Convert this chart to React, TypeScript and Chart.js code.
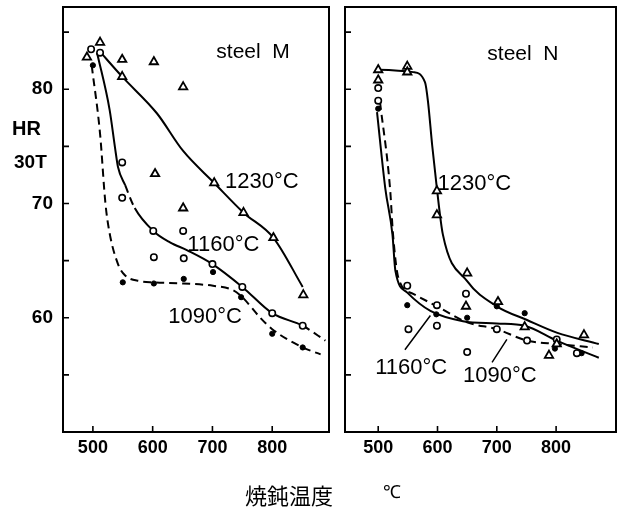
import React, { useEffect, useRef } from "react";
import { Chart, registerables } from "chart.js";
Chart.register(...registerables);

// ---- axis ticks ----
const xTickValues = [500, 600, 700, 800];
const yTickValues = [55, 60, 65, 70, 75, 80, 85];
const yLabelValues = [60, 70, 80];

// ---- steel M : measured points [temperature, HR30T] ----
const mTriangles = [[490, 82.8], [512, 84.1], [549, 82.6], [549, 81.1], [602, 82.4], [651, 80.2], [604, 72.6], [651, 69.6], [703, 71.8], [752, 69.2], [802, 67.0], [852, 62.0]];
const mCircles = [[497, 83.5], [512, 83.2], [549, 73.6], [549, 70.5], [601, 67.6], [602, 65.3], [651, 67.6], [652, 65.2], [700, 64.7], [750, 62.7], [800, 60.4], [851, 59.3]];
const mDots = [[500, 82.1], [550, 63.1], [602, 63.0], [652, 63.4], [701, 64.0], [748, 61.8], [800, 58.6], [851, 57.4]];
// ---- steel M : fitted curves ----
const mCurve1230 = [[510, 83.4], [549, 81.1], [607, 77.9], [651, 74.6], [703, 71.8], [752, 69.2], [802, 67.0], [851, 62.7]];
const mCurve1160 = [[507, 83.2], [528, 78.2], [537, 74.9], [542, 73.2], [554, 71.6], [570, 69.6], [601, 67.6], [629, 66.6], [658, 65.9], [700, 64.7], [750, 62.7], [800, 60.4], [851, 59.3], [889, 58.0]];
const mCurve1090 = [[498, 82.1], [512, 76.1], [521, 70.0], [528, 67.4], [542, 64.7], [554, 63.7], [579, 63.2], [602, 63.1], [651, 63.0], [701, 62.8], [735, 62.4], [750, 61.8], [780, 60.0], [800, 59.0], [851, 57.4], [881, 56.8]];

// ---- steel N : measured points ----
const nTriangles = [[500, 81.7], [500, 80.8], [549, 82.0], [549, 81.5], [599, 71.1], [599, 69.0], [650, 63.9], [648, 61.0], [702, 61.4], [747, 59.2], [788, 56.7], [801, 57.7], [847, 58.5]];
const nCircles = [[500, 80.1], [500, 79.0], [549, 62.8], [551, 59.0], [599, 61.1], [599, 59.3], [648, 62.1], [650, 57.0], [700, 59.0], [751, 58.0], [801, 58.1], [835, 56.9]];
const nDots = [[500, 78.3], [549, 61.1], [598, 60.3], [650, 60.0], [700, 61.0], [747, 60.4], [798, 57.3], [843, 56.9]];
// ---- steel N : fitted curves ----
const nCurve1230 = [[500, 81.7], [559, 81.5], [579, 80.6], [584, 78.9], [591, 75.1], [599, 71.3], [609, 67.3], [650, 63.2], [700, 61.0], [751, 59.8], [801, 58.7], [872, 57.7]];
const nCurve1160 = [[498, 78.0], [512, 71.3], [524, 67.3], [529, 64.1], [549, 62.2], [588, 60.6], [643, 59.7], [700, 59.5], [747, 59.3], [801, 58.0], [872, 56.5]];
const nCurve1090 = [[503, 78.9], [520, 71.3], [525, 67.3], [534, 63.5], [559, 62.1], [599, 61.0], [650, 59.6], [700, 59.0], [751, 58.0], [801, 57.7], [862, 57.4]];

// ---- annotation texts ----
const mTexts = [
  { text: "steel  M", x: 768, y: 83.2, align: "center", size: 21 },
  { text: "1230°C", x: 721, y: 71.9, align: "left", size: 22 },
  { text: "1160°C", x: 658, y: 66.4, align: "left", size: 22 },
  { text: "1090°C", x: 626, y: 60.1, align: "left", size: 22 },
];
const nTexts = [
  { text: "steel  N", x: 744, y: 83.1, align: "center", size: 21 },
  { text: "1230°C", x: 600, y: 71.7, align: "left", size: 22 },
  { text: "1160°C", x: 495, y: 55.6, align: "left", size: 22 },
  { text: "1090°C", x: 643, y: 54.9, align: "left", size: 22 },
];
const nLeaders = [
  [[545, 57.2], [588, 60.2]],
  [[692, 56.1], [717, 58.1]],
];

const FONT = "'Liberation Sans', Arial, sans-serif";
const toXY = (arr: number[][]) => arr.map(([x, y]) => ({ x, y }));

function makeDecor(texts: any[], leaders: number[][][]) {
  return {
    id: "decor",
    afterDraw(chart: any) {
      const { ctx, chartArea: a, scales } = chart;
      const x = scales.x, y = scales.y;
      ctx.save();
      ctx.strokeStyle = "#000";
      ctx.lineWidth = 2;
      ctx.strokeRect(a.left, a.top, a.right - a.left, a.bottom - a.top);
      ctx.lineWidth = 1.6;
      ctx.beginPath();
      for (const v of yTickValues) {
        const py = y.getPixelForValue(v);
        ctx.moveTo(a.left, py);
        ctx.lineTo(a.left + 6, py);
      }
      for (const v of xTickValues) {
        const px = x.getPixelForValue(v);
        ctx.moveTo(px, a.bottom);
        ctx.lineTo(px, a.bottom - 6);
      }
      ctx.stroke();
      ctx.lineWidth = 1.5;
      ctx.beginPath();
      for (const [p0, p1] of leaders) {
        ctx.moveTo(x.getPixelForValue(p0[0]), y.getPixelForValue(p0[1]));
        ctx.lineTo(x.getPixelForValue(p1[0]), y.getPixelForValue(p1[1]));
      }
      ctx.stroke();
      ctx.fillStyle = "#000";
      ctx.textBaseline = "middle";
      for (const t of texts) {
        ctx.font = `${t.size}px ${FONT}`;
        ctx.textAlign = t.align;
        ctx.fillText(t.text, x.getPixelForValue(t.x), y.getPixelForValue(t.y));
      }
      ctx.restore();
    },
  };
}

function markerSets(tri: number[][], circ: number[][], dots: number[][]) {
  return [
    { data: toXY(tri), pointStyle: "triangle", pointRadius: 4.8, borderColor: "#000", backgroundColor: "#fff", pointBorderWidth: 1.8, showLine: false },
    { data: toXY(circ), pointStyle: "circle", pointRadius: 3.2, borderColor: "#000", backgroundColor: "#fff", pointBorderWidth: 1.6, showLine: false },
    { data: toXY(dots), pointStyle: "circle", pointRadius: 2.6, borderColor: "#000", backgroundColor: "#000", pointBorderWidth: 1, showLine: false },
  ];
}

function curveSet(pts: number[][], dashed: boolean, dashFn?: (a: number, b: number) => boolean) {
  const ds: any = {
    data: toXY(pts),
    showLine: true,
    pointRadius: 0,
    borderColor: "#000",
    borderWidth: 2,
    cubicInterpolationMode: "monotone",
    borderDash: dashed ? [8, 5] : [],
  };
  if (dashFn) {
    ds.segment = {
      borderDash: (c: any) => (dashFn(c.p0.parsed.x, c.p1.parsed.x) ? [8, 5] : []),
    };
  }
  return ds;
}

function buildConfig(opts: any) {
  return {
    type: "scatter",
    data: { datasets: opts.datasets },
    options: {
      responsive: false,
      animation: false,
      devicePixelRatio: 1,
      layout: { padding: opts.padding },
      plugins: { legend: { display: false }, tooltip: { enabled: false } },
      scales: {
        x: {
          type: "linear",
          min: opts.xMin,
          max: opts.xMax,
          afterBuildTicks: (s: any) => { s.ticks = xTickValues.map((v) => ({ value: v })); },
          afterFit: (s: any) => { s.height = 76; s.paddingLeft = 0; s.paddingRight = 0; },
          grid: { display: false, drawTicks: false },
          border: { display: false },
          ticks: { padding: 5, color: "#000", font: { family: FONT, size: 18, weight: "bold" }, maxRotation: 0 },
        },
        y: {
          type: "linear",
          display: opts.showY,
          min: 50,
          max: 87.2,
          afterBuildTicks: (s: any) => { s.ticks = yLabelValues.map((v) => ({ value: v })); },
          afterFit: (s: any) => { s.width = opts.showY ? 63 : 0; s.paddingTop = 0; s.paddingBottom = 0; },
          grid: { display: false, drawTicks: false },
          border: { display: false },
          ticks: { padding: 10, color: "#000", font: { family: FONT, size: 19, weight: "bold" } },
        },
      },
    },
    plugins: [makeDecor(opts.texts, opts.leaders)],
  };
}

export default function App() {
  const leftRef = useRef<HTMLCanvasElement>(null);
  const rightRef = useRef<HTMLCanvasElement>(null);

  useEffect(() => {
    const left = new Chart(leftRef.current as any, buildConfig({
      xMin: 450, xMax: 895, showY: true,
      padding: { top: 7, right: 7, left: 0, bottom: 0 },
      texts: mTexts, leaders: [],
      datasets: [
        ...markerSets(mTriangles, mCircles, mDots),
        curveSet(mCurve1230, false),
        curveSet(mCurve1160, false, (a, b) => (a >= 554 && b <= 570) || a >= 851),
        curveSet(mCurve1090, true),
      ],
    }) as any);
    const right = new Chart(rightRef.current as any, buildConfig({
      xMin: 444, xMax: 901, showY: false,
      padding: { top: 7, right: 10, left: 9, bottom: 0 },
      texts: nTexts, leaders: nLeaders,
      datasets: [
        ...markerSets(nTriangles, nCircles, nDots),
        curveSet(nCurve1230, false),
        curveSet(nCurve1160, false),
        curveSet(nCurve1090, true),
      ],
    }) as any);
    return () => { left.destroy(); right.destroy(); };
  }, []);

  const label = (text: string, left: number, cy: number, size: number, family: string, weight = "bold") => (
    <span style={{ position: "absolute", left, top: cy - size * 0.6, fontSize: size, fontWeight: weight as any, lineHeight: `${size * 1.2}px`, fontFamily: family, color: "#000", whiteSpace: "pre" }}>{text}</span>
  );

  return (
    <div style={{ position: "absolute", left: 0, top: 0, width: 626, height: 508, background: "#fff", overflow: "hidden" }}>
      <canvas ref={leftRef} width={336} height={508} style={{ position: "absolute", left: 0, top: 0 }} />
      <canvas ref={rightRef} width={290} height={508} style={{ position: "absolute", left: 336, top: 0 }} />
      {label("HR", 12, 128, 20, FONT)}
      {label("30T", 14, 162, 19, FONT)}
      {label("焼鈍温度", 245, 494, 22, "'Noto Sans CJK JP', sans-serif", "normal")}
      {label("℃", 383, 493, 18, FONT, "normal")}
    </div>
  );
}
